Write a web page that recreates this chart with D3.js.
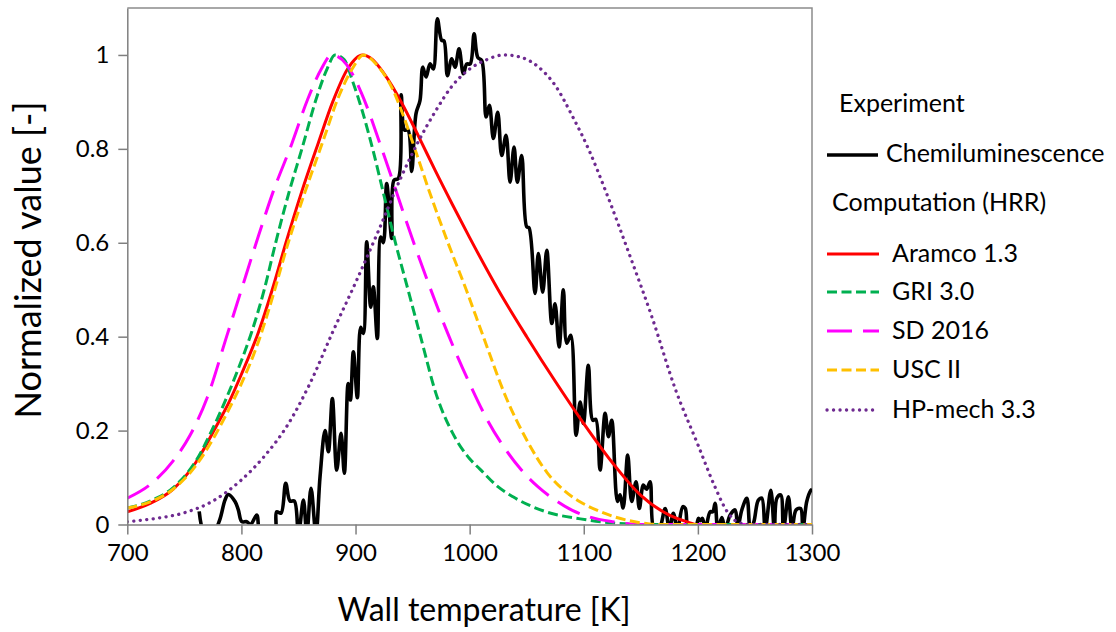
<!DOCTYPE html>
<html>
<head>
<meta charset="utf-8">
<script src="https://cdn.jsdelivr.net/npm/d3@7"></script>
<style>
  html,body{margin:0;padding:0;background:#fff;}
  svg{display:block;font-family:Lato,"Open Sans",sans-serif;}
</style>
</head>
<body>
<div id="chart"></div>
<script>
// Normalized HRR / chemiluminescence vs wall temperature.
const xTicks = [700, 800, 900, 1000, 1100, 1200, 1300];
const yTicks = [0, 0.2, 0.4, 0.6, 0.8, 1];

// [T (K), value]; dips under 0 get clipped by the plot area
const chemi = [[763,0.028],[768,-0.02],[775,-0.02],[781,0.01],[785.6,0.052],[788.5,0.064],[794.4,0.049],[797.3,0.031],[800.3,0.006],[804.7,0.006],[808,0.0],[813.4,0.02],[816.3,-0.02],[822,-0.03],[829.4,-0.02],[830.9,0.027],[834.7,0.024],[838.8,0.088],[842.6,0.05],[846.4,0.05],[850,-0.02],[854.3,0.052],[857.3,-0.02],[861,0.077],[865.3,-0.02],[868.9,0.102],[873.3,0.2],[876.2,0.155],[879.7,0.268],[883.5,0.116],[887.3,0.194],[890.2,0.109],[893.5,0.3],[895.5,0.265],[898.1,0.368],[901.6,0.27],[904.5,0.42],[906.8,0.407],[909.8,0.602],[913.3,0.463],[915.6,0.506],[919.1,0.396],[922.1,0.612],[924.4,0.6],[927.3,0.726],[931.7,0.609],[933.7,0.733],[937.5,0.737],[940,0.915],[943,0.84],[946,0.84],[949.2,0.752],[953,0.875],[956.5,0.903],[958.9,0.974],[961.8,0.953],[965.3,0.981],[968.2,0.97],[971.7,1.077],[975.5,1.031],[977.5,1.03],[980.5,0.956],[984.3,0.992],[987.2,0.974],[990.7,1.013],[994.5,0.96],[997.5,0.981],[1000.5,0.981],[1003.9,1.045],[1007.1,0.995],[1010.6,0.988],[1014.4,0.868],[1017.3,0.893],[1020.8,0.822],[1024.6,0.878],[1028.1,0.786],[1031.9,0.829],[1035.4,0.729],[1038.9,0.804],[1041.8,0.729],[1045.6,0.786],[1050,0.634],[1052,0.632],[1057.3,0.492],[1060.2,0.577],[1064,0.495],[1067.6,0.584],[1072,0.428],[1074.8,0.47],[1078.4,0.378],[1082.1,0.5],[1085.1,0.386],[1088.6,0.403],[1093.3,0.19],[1096.8,0.261],[1099.7,0.215],[1104,0.339],[1107.9,0.222],[1110.5,0.224],[1114.3,0.116],[1118.7,0.237],[1121.6,0.187],[1124.5,0.222],[1129.5,0.049],[1131.8,0.063],[1134.5,0.035],[1138.5,0.148],[1142,0.049],[1145.8,0.091],[1148.7,0.034],[1152.2,0.084],[1155,0.075],[1158.1,0.091],[1161.6,-0.01],[1166,-0.01],[1171.3,0.034],[1175,-0.01],[1178.5,0.024],[1182,-0.01],[1186.8,0.038],[1189,0.034],[1192,-0.02],[1197,-0.02],[1200.4,0.013],[1202,0.008],[1204,0.013],[1206.5,-0.01],[1210.7,0.027],[1213,0.027],[1215.1,0.045],[1217.5,-0.01],[1221,0.015],[1224,-0.01],[1228.2,0.02],[1232.6,0.031],[1235,-0.005],[1238.5,0.031],[1242.9,0.056],[1246,-0.01],[1249,0.005],[1253,0.052],[1256,0.056],[1259,-0.01],[1263.9,0.073],[1267,-0.01],[1269.2,0.056],[1272.6,0.063],[1275,-0.01],[1279.3,0.059],[1282.5,-0.01],[1286,0.031],[1290,0.034],[1292,-0.01],[1295.4,0.049],[1299,0.073],[1300,0.075]];

const aramco = [[700,0.027],[720,0.045],[740,0.075],[760,0.132],[777,0.205],[790,0.265],[800,0.32],[815,0.41],[827,0.5],[839,0.6],[853,0.71],[867,0.81],[880,0.9],[893,0.97],[906,1.0],[915,0.99],[925,0.96],[940,0.9],[956,0.823],[970,0.753],[985,0.681],[1000,0.611],[1025,0.5],[1050,0.4],[1075,0.305],[1100,0.215],[1125,0.132],[1150,0.062],[1175,0.02],[1190,0.006],[1200,0],[1300,0]];

const gri = [[700,0.035],[720,0.05],[740,0.078],[760,0.135],[775,0.205],[787,0.27],[797,0.33],[809,0.41],[820,0.5],[830,0.6],[842,0.71],[853,0.8],[866,0.91],[875,0.97],[882,1.0],[890,0.99],[898,0.94],[906,0.88],[915,0.8],[925,0.7],[935,0.6],[946,0.5],[957,0.4],[971,0.275],[985,0.195],[1000,0.14],[1009,0.118],[1025,0.08],[1038,0.059],[1067,0.027],[1097,0.012],[1126,0.003],[1150,0],[1300,0]];

const sd2016 = [[700,0.056],[720,0.085],[740,0.135],[755,0.19],[770,0.27],[787,0.4],[800,0.5],[813,0.6],[828,0.71],[844,0.81],[858,0.905],[870,0.97],[879,1.0],[892,0.98],[905,0.92],[923,0.8],[951,0.6],[982,0.4],[1000,0.3],[1015,0.225],[1030,0.165],[1045,0.117],[1060,0.08],[1075,0.052],[1090,0.03],[1105,0.016],[1125,0.006],[1150,0],[1300,0]];

const usc2 = [[700,0.035],[720,0.048],[740,0.075],[760,0.125],[777,0.19],[790,0.25],[800,0.3],[815,0.39],[828,0.49],[841,0.6],[856,0.71],[872,0.82],[885,0.91],[897,0.97],[907,1.0],[920,0.975],[932,0.93],[942,0.87],[952,0.8],[966,0.7],[981,0.6],[997,0.5],[1012,0.4],[1032,0.27],[1050,0.18],[1068,0.11],[1083,0.072],[1097,0.048],[1112,0.03],[1126,0.017],[1140,0.008],[1155,0.002],[1165,0],[1300,0]];

const hpmech = [[700,0.006],[725,0.013],[750,0.025],[775,0.05],[800,0.095],[820,0.145],[840,0.21],[860,0.3],[880,0.41],[900,0.515],[920,0.625],[940,0.74],[956,0.82],[970,0.88],[985,0.935],[1000,0.97],[1015,0.99],[1030,1.0],[1045,0.995],[1060,0.975],[1075,0.935],[1090,0.87],[1105,0.795],[1120,0.705],[1140,0.575],[1160,0.44],[1180,0.29],[1200,0.17],[1215,0.08],[1225,0.03],[1235,0.005],[1245,0],[1300,0]];

const W = 1116, H = 632;
const svg = d3.select("#chart").append("svg").attr("width", W).attr("height", H);

const x = d3.scaleLinear().domain([700, 1300]).range([127.3, 812]);
const y = d3.scaleLinear().domain([0, 1.1]).range([524.5, 8]);

svg.append("clipPath").attr("id","plot").append("rect")
  .attr("x", x(700)).attr("y", y(1.1)).attr("width", x(1300)-x(700)).attr("height", y(0)-y(1.1));

// frame top/right
svg.append("path").attr("d", `M${x(700)},${y(1.1)}H${x(1300)}V${y(0)}`)
  .attr("fill","none").attr("stroke","#8c8c8c").attr("stroke-width",1.5);

const lineExp = d3.line().x(d=>x(d[0])).y(d=>y(d[1])).curve(d3.curveCatmullRom.alpha(0.5));
const lineSim = d3.line().x(d=>x(d[0])).y(d=>y(d[1])).curve(d3.curveMonotoneX);

const series = [
  {name:"Aramco 1.3", data:aramco, color:"#ff0000", w:3, dash:null},
  {name:"GRI 3.0", data:gri, color:"#00b050", w:3, dash:"10,4.5"},
  {name:"SD 2016", data:sd2016, color:"#ff00ff", w:3, dash:"25,11"},
  {name:"USC II", data:usc2, color:"#ffc000", w:3, dash:"10,4.5"},
  {name:"HP-mech 3.3", data:hpmech, color:"#6e2a90", w:3.3, dash:"0.1,6.4", cap:"round"}
];

const g = svg.append("g").attr("clip-path","url(#plot)");
g.append("path").datum(chemi).attr("d", lineExp).attr("fill","none").attr("stroke","#000").attr("stroke-width",3.6).attr("stroke-linejoin","round");
series.forEach(s=>{
  g.append("path").datum(s.data).attr("d", lineSim).attr("fill","none")
    .attr("stroke", s.color).attr("stroke-width", s.w)
    .attr("stroke-dasharray", s.dash).attr("stroke-linecap", s.cap||"butt");
});

// axes
const fmt = d => d===0 ? "0" : d===1 ? "1" : d3.format(".1f")(d);
const ya = svg.append("g").attr("transform",`translate(${x(700)},0)`)
  .call(d3.axisLeft(y).tickValues(yTicks).tickSize(9).tickSizeOuter(0).tickPadding(9).tickFormat(fmt));
const xa = svg.append("g").attr("transform",`translate(0,${y(0)})`)
  .call(d3.axisBottom(x).tickValues(xTicks).tickSize(10).tickSizeOuter(0).tickPadding(9).tickFormat(d3.format("d")));
[ya, xa].forEach(a=>{
  a.select(".domain").attr("stroke","#7f7f7f").attr("stroke-width",1.5);
  a.selectAll(".tick line").attr("stroke","#7f7f7f").attr("stroke-width",1.5);
  a.selectAll(".tick text").attr("font-family","Lato").attr("font-size",24).attr("fill","#000");
});

svg.append("text").attr("x", 484).attr("y", 621).attr("text-anchor","middle")
  .attr("font-size",32).text("Wall temperature [K]");
svg.append("text").attr("transform","translate(41,260) rotate(-90)").attr("text-anchor","middle")
  .attr("font-size",36).text("Normalized value [-]");

// legend
const lg = svg.append("g").attr("font-size",25);
lg.append("text").attr("x",839).attr("y",112).text("Experiment");
lg.append("line").attr("x1",827).attr("x2",878).attr("y1",155).attr("y2",155).attr("stroke","#000").attr("stroke-width",3.6);
lg.append("text").attr("x",886).attr("y",162).text("Chemiluminescence");
lg.append("text").attr("x",832).attr("y",211).text("Computation (HRR)");
const ly = [254, 292, 331, 370, 410];
series.forEach((s,i)=>{
  lg.append("line").attr("x1",827).attr("x2",879).attr("y1",ly[i]).attr("y2",ly[i])
    .attr("stroke",s.color).attr("stroke-width",s.w).attr("stroke-dasharray",s.dash).attr("stroke-linecap",s.cap||"butt");
  lg.append("text").attr("x",892).attr("y",ly[i]+8).text(s.name);
});
</script>
</body>
</html>
